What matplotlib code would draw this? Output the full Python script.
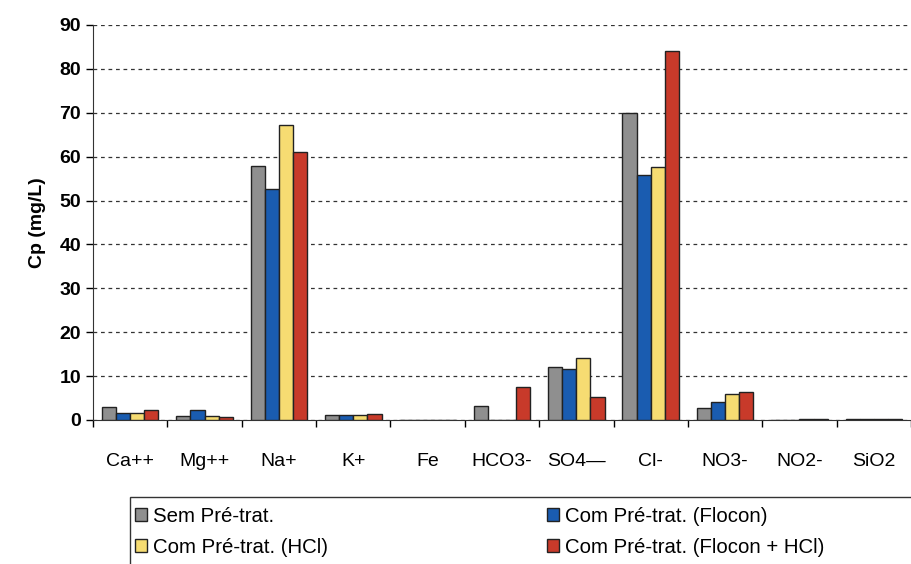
import matplotlib
matplotlib.use("Agg")
import matplotlib.pyplot as plt
from matplotlib.patches import Rectangle
import numpy as np

plt.rcParams['font.family'] = ['Liberation Sans', 'DejaVu Sans']

categories = ["Ca++", "Mg++", "Na+", "K+", "Fe", "HCO3-", "SO4--", "Cl-", "NO3-", "NO2-", "SiO2"]
tick_labels = ["Ca++", "Mg++", "Na+", "K+", "Fe", "HCO3-", "SO4\u2014", "Cl-", "NO3-", "NO2-", "SiO2"]
sem = [3.0, 1.0, 57.8, 1.1, 0.0, 3.3, 12.0, 70.0, 2.8, 0.0, 0.2]
flocon = [1.5, 2.3, 52.7, 1.1, 0.0, 0.0, 11.6, 55.8, 4.0, 0.1, 0.2]
hcl = [1.5, 1.0, 67.2, 1.1, 0.0, 0.0, 14.2, 57.6, 6.0, 0.2, 0.2]
flocon_hcl = [2.3, 0.6, 61.0, 1.3, 0.0, 7.5, 5.2, 84.0, 6.3, 0.2, 0.2]
series_names = ["Sem Pré-trat.", "Com Pré-trat. (Flocon)", "Com Pré-trat. (HCl)", "Com Pré-trat. (Flocon + HCl)"]
colors = ["#8f8f8f", "#1a5cb0", "#f6dc72", "#c83a2a"]

W, H = 911, 564
fig = plt.figure(figsize=(W/100, H/100), dpi=100)
ax = fig.add_axes([93/W, 1-420/H, (W-93)/W, (420-25)/H])

x = np.arange(len(categories))
w = 0.19
bars = []
for i, (vals, c) in enumerate(zip([sem, flocon, hcl, flocon_hcl], colors)):
    b = ax.bar(x + (i - 1.5) * w, vals, w, color=c, edgecolor="#222222", linewidth=1.0, zorder=3)
    bars.append(b)

ax.set_xlim(-0.5, 10.407)
ax.set_ylim(0, 90)
ax.set_yticks(range(0, 91, 10))
ax.tick_params(axis='y', labelsize=14, length=5, direction='out', width=1)
for t in ax.get_yticklabels():
    t.set_fontweight('bold')
ax.set_xticks(x)
ax.set_xticklabels(tick_labels, fontsize=14)
ax.set_xticks(np.arange(-0.5, 11, 1), minor=True)
ax.tick_params(axis='x', which='major', length=0, pad=24)
ax.tick_params(axis='x', which='minor', length=5, width=1)
ax.yaxis.grid(True, linestyle=(0, (3, 3)), color="#333333", linewidth=0.9, zorder=0)
for s in ["top", "right"]:
    ax.spines[s].set_visible(False)
ax.spines["left"].set_color("#333333")
ax.spines["bottom"].set_color("#333333")
ax.set_ylabel("Cp (mg/L)", fontsize=14, fontweight='bold', labelpad=10)

# legend frame
fig.patches.append(Rectangle((130/W, -0.05), (W+5-130)/W, (1-497/H)+0.05,
                             transform=fig.transFigure, fill=False,
                             edgecolor="#333333", linewidth=1.0))

handles = [bars[0], bars[2], bars[1], bars[3]]
labels = [series_names[0], series_names[2], series_names[1], series_names[3]]
leg = fig.legend(handles, labels, ncol=2, loc='upper left',
                 bbox_to_anchor=(135/W, 1-507/H),
                 fontsize=14.7, frameon=False,
                 handlelength=0.6, handleheight=0.6,
                 handletextpad=0.3, borderaxespad=0, labelspacing=0.58,
                 borderpad=0, columnspacing=10.7)

fig.savefig("out.png", dpi=100)
